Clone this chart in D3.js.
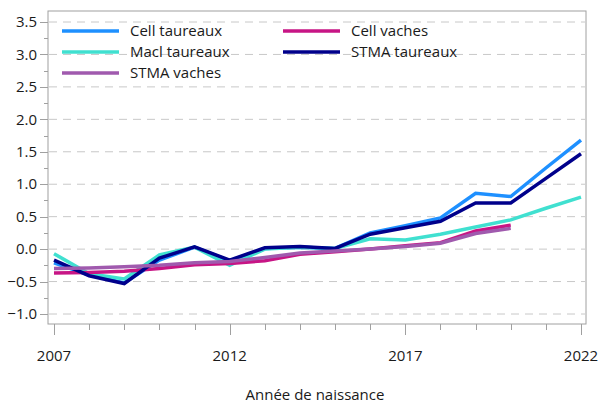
<!DOCTYPE html>
<html>
<head>
<meta charset="utf-8">
<script src="https://cdn.jsdelivr.net/npm/d3@7"></script>
<style>
  body { margin: 0; background: #fff; }
  text { font-family: "Open Sans", "Noto Sans", sans-serif; fill: #1a1a1a; }
</style>
</head>
<body>
<script>
const years = d3.range(2007, 2023);
const yTicks = [-1.0, -0.5, 0.0, 0.5, 1.0, 1.5, 2.0, 2.5, 3.0, 3.5];
const xLabels = [2007, 2012, 2017, 2022];

// values by year, 2007..2022 (vaches stop in 2020)
const cellTaureaux = [-0.21, -0.40, -0.52, -0.17, 0.03, -0.18, 0.01, 0.03, 0.01, 0.25, 0.36, 0.48, 0.86, 0.81, 1.25, 1.68];
const maclTaureaux = [-0.07, -0.38, -0.46, -0.09, 0.03, -0.25, 0.00, 0.03, 0.01, 0.16, 0.14, 0.23, 0.34, 0.45, 0.63, 0.80];
const stmaTaureaux = [-0.17, -0.41, -0.53, -0.14, 0.035, -0.17, 0.02, 0.04, 0.01, 0.23, 0.33, 0.43, 0.71, 0.71, 1.09, 1.47];
const cellVaches = [-0.37, -0.36, -0.34, -0.30, -0.24, -0.22, -0.18, -0.08, -0.04, 0.00, 0.05, 0.10, 0.28, 0.37];
const stmaVaches = [-0.30, -0.29, -0.27, -0.25, -0.21, -0.19, -0.13, -0.06, -0.03, 0.00, 0.04, 0.09, 0.24, 0.32];

const series = [
  { name: 'Cell taureaux', values: cellTaureaux, color: '#1e90ff' },
  { name: 'Macl taureaux', values: maclTaureaux, color: '#40e0d0' },
  { name: 'Cell vaches', values: cellVaches, color: '#c71585' },
  { name: 'STMA taureaux', values: stmaTaureaux, color: '#00008b' },
  { name: 'STMA vaches', values: stmaVaches, color: '#a05aae' }
];

const width = 599, height = 405;
const frame = { left: 48, top: 11, right: 586, bottom: 324 };

const x = d3.scaleLinear().domain([2007, 2022]).range([54, 581]);
const y = d3.scaleLinear().domain([-1, 3.5]).range([314, 22]);

const svg = d3.select('body').append('svg')
  .attr('width', width).attr('height', height);

// grid
svg.append('g').selectAll('line')
  .data(yTicks)
  .join('line')
  .attr('x1', frame.left + 1).attr('x2', frame.right - 1)
  .attr('y1', d => y(d)).attr('y2', d => y(d))
  .attr('stroke', '#c8c8c8')
  .attr('stroke-width', 1)
  .attr('stroke-dasharray', '8,6');

// frame
svg.append('rect')
  .attr('x', frame.left).attr('y', frame.top)
  .attr('width', frame.right - frame.left).attr('height', frame.bottom - frame.top)
  .attr('fill', 'none').attr('stroke', '#a0a0a0').attr('stroke-width', 1);

// y axis ticks
const yMinor = d3.range(-1, 3.51, 0.25);
svg.append('g').selectAll('line')
  .data(yMinor)
  .join('line')
  .attr('x1', d => (Math.abs(d * 2 - Math.round(d * 2)) < 1e-6 ? frame.left - 8 : frame.left - 4))
  .attr('x2', frame.left)
  .attr('y1', d => Math.round(y(d)) + 0.5).attr('y2', d => Math.round(y(d)) + 0.5)
  .attr('stroke', '#a0a0a0');

svg.append('g').selectAll('text')
  .data(yTicks)
  .join('text')
  .attr('x', 37)
  .attr('y', d => y(d))
  .attr('dy', '0.35em')
  .attr('text-anchor', 'end')
  .attr('font-size', 15)
  .text(d => d3.format('.1f')(d));

// x axis ticks
svg.append('g').selectAll('line')
  .data(years)
  .join('line')
  .attr('x1', d => Math.round(x(d)) + 0.5).attr('x2', d => Math.round(x(d)) + 0.5)
  .attr('y1', frame.bottom)
  .attr('y2', d => (xLabels.includes(d) ? frame.bottom + 11 : frame.bottom + 6))
  .attr('stroke', '#a0a0a0');

svg.append('g').selectAll('text')
  .data(xLabels)
  .join('text')
  .attr('x', d => x(d))
  .attr('y', 356)
  .attr('dy', '0.35em')
  .attr('text-anchor', 'middle')
  .attr('font-size', 15)
  .text(d => d);

svg.append('text')
  .attr('x', 315).attr('y', 395)
  .attr('dy', '0.35em')
  .attr('text-anchor', 'middle')
  .attr('font-size', 15)
  .text('Année de naissance');

// lines
const line = d3.line()
  .x((d, i) => x(years[i]))
  .y(d => y(d));

svg.append('g').selectAll('path')
  .data(series)
  .join('path')
  .attr('d', d => line(d.values))
  .attr('fill', 'none')
  .attr('stroke', d => d.color)
  .attr('stroke-width', 3.5)
  .attr('stroke-linejoin', 'miter');

// legend
const legendItems = [
  { s: series[0], col: 0, row: 0 },
  { s: series[2], col: 1, row: 0 },
  { s: series[1], col: 0, row: 1 },
  { s: series[3], col: 1, row: 1 },
  { s: series[4], col: 0, row: 2 }
];
const colX = [62, 283];
const rowY = [31, 52, 73];

const lg = svg.append('g').selectAll('g')
  .data(legendItems)
  .join('g')
  .attr('transform', d => `translate(${colX[d.col]},${rowY[d.row]})`);

lg.append('line')
  .attr('x1', 0).attr('x2', 57)
  .attr('stroke', d => d.s.color)
  .attr('stroke-width', 3.5);

lg.append('text')
  .attr('x', 68)
  .attr('dy', '0.35em')
  .attr('font-size', 15)
  .text(d => d.s.name);
</script>
</body>
</html>
